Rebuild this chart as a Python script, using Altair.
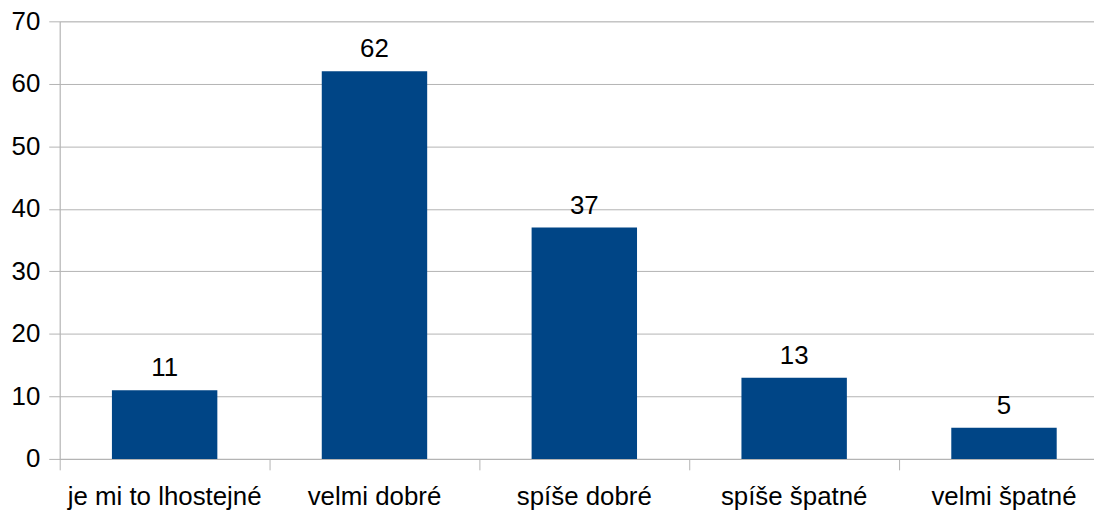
import altair as alt
import pandas as pd

categories = ["je mi to lhostejné", "velmi dobré", "spíše dobré", "spíše špatné", "velmi špatné"]
values = [11, 62, 37, 13, 5]
y_ticks = [0, 10, 20, 30, 40, 50, 60, 70]

df = pd.DataFrame({"kategorie": categories, "pocet": values})

FONT = "Liberation Sans"
GRID = "#b3b3b3"
FS = 26

x_enc = alt.X(
    "kategorie:N",
    sort=categories,
    title=None,
    scale=alt.Scale(paddingInner=0, paddingOuter=0, range=[0, 1055]),
    axis=alt.Axis(
        labelAngle=0,
        labelFont=FONT,
        labelFontSize=FS,
        labelColor="black",
        labelPadding=14,
        labelLimit=400,
        tickSize=11,
        tickColor=GRID,
        domainColor=GRID,
        bandPosition=0,
        grid=False,
        labelBound=False,
        labelOverlap=False,
    ),
)

y_enc = alt.Y(
    "pocet:Q",
    title=None,
    scale=alt.Scale(domain=[0, 70], nice=False),
    axis=alt.Axis(
        values=y_ticks,
        labelFont=FONT,
        labelFontSize=FS,
        labelColor="black",
        labelPadding=9,
        tickSize=11,
        tickColor=GRID,
        domainColor=GRID,
        gridColor=GRID,
        grid=True,
    ),
)

bars = alt.Chart(df).mark_bar(color="#004586", size=106).encode(x=x_enc, y=y_enc)

labels = alt.Chart(df).mark_text(
    font=FONT, fontSize=FS, color="black", baseline="alphabetic", dy=-14
).encode(
    x=alt.X("kategorie:N", sort=categories),
    y="pocet:Q",
    text="pocet:Q",
)

chart = (
    alt.layer(bars, labels)
    .properties(
        width=1040,
        height=440,
        autosize=alt.AutoSizeParams(type="none"),
        padding={"left": 52, "top": 12, "right": 0, "bottom": 52},
    )
    .configure_view(stroke=None)
    .configure(background="white")
)

chart.save("out.html", embed_options={"renderer": "svg", "actions": False})
